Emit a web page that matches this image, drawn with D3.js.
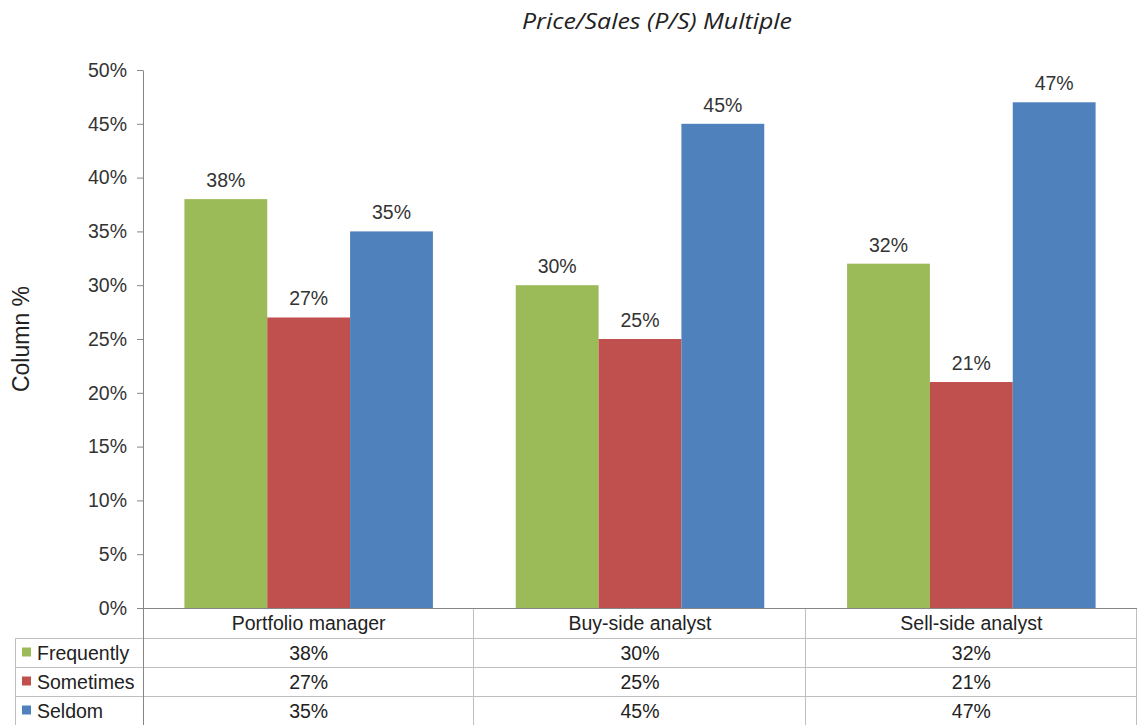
<!DOCTYPE html>
<html><head><meta charset="utf-8">
<script src="https://cdn.jsdelivr.net/npm/d3@7"></script>
<style>body{margin:0;background:#fff}svg{display:block}</style>
</head><body>
<svg id="c" width="1138" height="725"></svg>
<script>
const categories = ["Portfolio manager", "Buy-side analyst", "Sell-side analyst"];
const seriesNames = ["Frequently", "Sometimes", "Seldom"];
const frequently = [38, 30, 32];
const sometimes = [27, 25, 21];
const seldom = [35, 45, 47];
const yTicks = [0, 5, 10, 15, 20, 25, 30, 35, 40, 45, 50];
const colors = ["#9BBB59", "#C0504D", "#4F81BD"];
const series = [frequently, sometimes, seldom];

(function () {
const svg = d3.select("#c");
const pLeft = 143, pRight = 1137, pTop = 70, pBottom = 608;
const font = "'Liberation Sans', Arial, sans-serif";
const fs = 19.5;

const x = d3.scaleBand().domain(categories).range([pLeft, pRight]).paddingInner(0).paddingOuter(0);
const xi = d3.scaleBand().domain(seriesNames).range([0, x.bandwidth()]).paddingOuter(0.5).paddingInner(0);
const y = d3.scaleLinear().domain([0, 50]).range([pBottom, pTop]);

// title
svg.append("text").attr("x", 657).attr("y", 29).attr("text-anchor", "middle")
  .attr("font-family", "'Open Sans', sans-serif").attr("font-style", "italic")
  .attr("font-size", 21.5).attr("textLength", 270).attr("lengthAdjust", "spacingAndGlyphs")
  .attr("fill", "#222").text("Price/Sales (P/S) Multiple");

// y axis label
svg.append("text").attr("transform", "translate(29,339) rotate(-90)").attr("text-anchor", "middle")
  .attr("font-family", font).attr("font-size", 23).attr("fill", "#222").text("Column %");

// y axis
const yAxis = svg.append("g").attr("transform", `translate(${pLeft},0)`)
  .call(d3.axisLeft(y).tickValues(yTicks).tickFormat(d => d + "%").tickSize(6).tickSizeOuter(0));
yAxis.select(".domain").attr("stroke", "#868686");
yAxis.selectAll(".tick line").attr("stroke", "#868686");
yAxis.selectAll(".tick text").attr("font-family", font).attr("font-size", fs).attr("fill", "#333").attr("x", -16);

// bars
categories.forEach((c, ci) => {
  seriesNames.forEach((s, si) => {
    const v = series[si][ci];
    const bx = x(c) + xi(s);
    svg.append("rect").attr("x", bx).attr("y", y(v)).attr("width", xi.bandwidth())
      .attr("height", y(0) - y(v)).attr("fill", colors[si]);
    svg.append("text").attr("x", bx + xi.bandwidth() / 2).attr("y", y(v) - 12)
      .attr("text-anchor", "middle").attr("font-family", font).attr("font-size", fs)
      .attr("fill", "#333").text(v + "%");
  });
});

// table
const rowTop = [608, 638, 667, 696, 725];
const gridColor = "#BFBFBF";
const g = svg.append("g");
[638, 667, 696].forEach(yy => g.append("line").attr("x1", 15).attr("x2", pRight).attr("y1", yy + 0.5).attr("y2", yy + 0.5).attr("stroke", gridColor));
g.append("line").attr("x1", 15.5).attr("x2", 15.5).attr("y1", 638).attr("y2", 725).attr("stroke", gridColor);
categories.forEach(c => {
  const xe = Math.round(x(c) + x.bandwidth()) - 0.5;
  g.append("line").attr("x1", xe).attr("x2", xe).attr("y1", 608).attr("y2", 725).attr("stroke", gridColor);
});
g.append("line").attr("x1", pLeft + 0.5).attr("x2", pLeft + 0.5).attr("y1", 608).attr("y2", 725).attr("stroke", "#868686");
svg.append("line").attr("x1", pLeft).attr("x2", pRight).attr("y1", pBottom + 0.5).attr("y2", pBottom + 0.5).attr("stroke", "#868686");

// header
categories.forEach(c => {
  svg.append("text").attr("x", x(c) + x.bandwidth() / 2).attr("y", 630).attr("text-anchor", "middle")
    .attr("font-family", font).attr("font-size", fs).attr("fill", "#222").text(c);
});
// rows
seriesNames.forEach((s, si) => {
  const yc = (rowTop[si + 1] + rowTop[si + 2]) / 2;
  svg.append("rect").attr("x", 22).attr("y", yc - 5).attr("width", 9).attr("height", 9).attr("fill", colors[si]);
  svg.append("text").attr("x", 37).attr("y", yc + 7).attr("font-family", font).attr("font-size", fs)
    .attr("fill", "#222").text(s);
  categories.forEach((c, ci) => {
    svg.append("text").attr("x", x(c) + x.bandwidth() / 2).attr("y", yc + 7).attr("text-anchor", "middle")
      .attr("font-family", font).attr("font-size", fs).attr("fill", "#222").text(series[si][ci] + "%");
  });
});
})();
</script>
</body></html>
